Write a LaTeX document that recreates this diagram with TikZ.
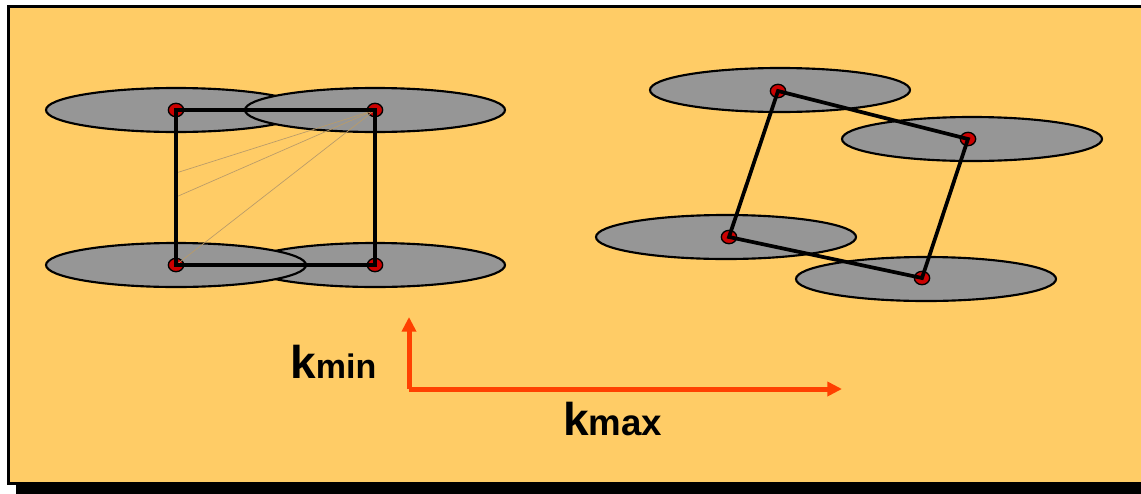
\documentclass[tikz,border=0pt]{standalone}
\usepackage{fontspec}
\setmainfont{Liberation Sans}
\usetikzlibrary{shapes.geometric, arrows.meta, positioning}
\definecolor{slidebg}{RGB}{255,204,102}
\definecolor{discgray}{RGB}{150,150,150}
\definecolor{dotred}{RGB}{204,0,0}
\definecolor{axisred}{RGB}{255,64,0}
\definecolor{fanline}{RGB}{185,155,105}

\begin{document}
\begin{tikzpicture}[
    x=0.75pt, y=-0.75pt,
    disc/.style={ellipse, draw, fill=discgray, line width=1.6pt, minimum width=195pt, minimum height=33pt, inner sep=0pt},
    dot/.style={ellipse, draw, fill=dotred, line width=1pt, minimum width=11.5pt, minimum height=10pt, inner sep=0pt},
    link/.style={line width=2.8pt, line cap=round},
    fan/.style={fanline, line width=0.5pt},
    axis/.style={axisred, line width=3.75pt, -{Triangle[length=11pt, width=10.5pt]}},
    klabel/.style={anchor=base west, inner sep=0pt, font=\bfseries}
]
\clip (0,0) rectangle (1141,493);

% slide frame with shadow
\fill[black] (16,14) rectangle (1160,500);
\filldraw[fill=slidebg, draw=black, line width=2.25pt] (8,6.5) rectangle (1152,483);

% square lattice
\node[disc] (dtl) at (176,110) {};
\node[disc] (dtr) at (375,110) {};
\node[disc] (dbr) at (375,265) {};
\node[disc] (dbl) at (176,265) {};
\node[dot] (tl) at (dtl.center) {};
\node[dot] (tr) at (dtr.center) {};
\node[dot] (br) at (dbr.center) {};
\node[dot] (bl) at (dbl.center) {};

\coordinate (f1) at (176,173);
\coordinate (f2) at (176,197);
\draw[fan] (tr.center) -- (f1);
\draw[fan] (tr.center) -- (f2);
\draw[fan] (tr.center) -- (bl.center);

\draw[link] (tl.center) -- (tr.center) -- (br.center) -- (bl.center) -- cycle;

% sheared lattice
\node[disc] (da) at (780,90) {};
\node[disc] (db) at (972,139) {};
\node[disc] (dc) at (726,237) {};
\node[disc] (dd) at (926,279) {};
\node[dot] (a) at (778,91) {};
\node[dot] (b) at (968,139) {};
\node[dot] (c) at (729,237) {};
\node[dot] (d) at (922,278) {};

\draw[link] (a.center) -- (b.center) -- (d.center) -- (c.center) -- cycle;

% axes
\coordinate (origin) at (409,389);
\coordinate (ytip) at (409,317);
\coordinate (xtip) at (842,389);
\draw[axis] (origin) -- (ytip);
\draw[axis] (origin) -- (xtip);

\node[klabel] (kmin) at (290,378) {\fontsize{34.5pt}{36pt}\selectfont k\fontsize{25.5pt}{27pt}\selectfont min};
\node[klabel] (kmax) at (563,435) {\fontsize{34.5pt}{36pt}\selectfont k\fontsize{27.5pt}{29pt}\selectfont max};

\end{tikzpicture}
\end{document}
